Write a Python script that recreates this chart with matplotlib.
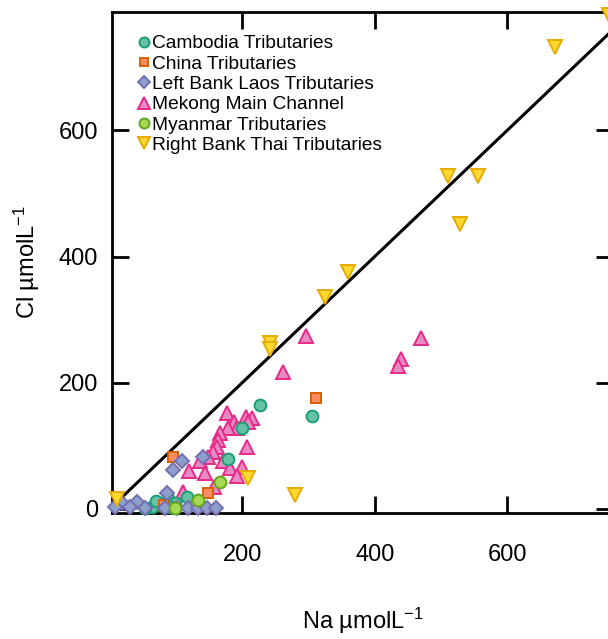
import matplotlib
matplotlib.use("Agg")
import matplotlib.pyplot as plt

plt.rcParams['font.family'] = ['Liberation Sans', 'DejaVu Sans']
plt.rcParams['mathtext.fontset'] = 'custom'
plt.rcParams['mathtext.rm'] = 'Liberation Sans'
plt.rcParams['mathtext.it'] = 'Liberation Sans'
plt.rcParams['mathtext.default'] = 'regular'

# Na vs Cl concentrations (umol/L) by sampling group
cambodia_na = [227, 200, 305, 179, 117, 87, 79, 98, 76, 64, 53, 70, 92]
cambodia_cl = [164, 128, 147, 79, 19, 17, 8, 9, 6, 3, 1, 12, 2]

china_na = [311, 95, 148, 82]
china_cl = [175, 82, 25, 6]

laos_na = [109, 95, 140, 86, 18, 41, 8, 30, 53, 83, 101, 118, 133, 147, 160]
laos_cl = [76, 61, 82, 25, 9, 11, 3, 3, 1, 1, 1, 1, 1, 1, 1]

mekong_na = [177, 205, 215, 209, 187, 192, 178, 166, 163, 162, 156, 207, 148,
             136, 171, 181, 200, 119, 144, 192, 157, 110, 296, 261, 470, 440, 435]
mekong_cl = [152, 146, 143, 138, 138, 128, 128, 120, 109, 98, 90, 97, 82,
             75, 75, 65, 66, 60, 57, 52, 34, 27, 274, 216, 271, 238, 227]

myanmar_na = [166, 133, 98]
myanmar_cl = [42, 14, 1]

thai_na = [10, 208, 280, 241, 241, 325, 359, 511, 556, 529, 672, 754]
thai_cl = [15, 48, 22, 262, 254, 335, 375, 527, 528, 452, 732, 784]

x_ticks = [200, 400, 600]
y_ticks = [0, 200, 400, 600]

W, H = 608, 639
fig = plt.figure(figsize=(W / 100, H / 100), dpi=100)
ax = fig.add_axes([112 / W, 1 - 513 / H, (613 - 112) / W, (513 - 12) / H])
ax.set_xlim(3, 760)
ax.set_ylim(-7, 788)

# 1:1 reference line
ax.plot([0, 800], [0, 800], color='black', lw=2.2, zorder=2, clip_on=True)

groups = [
    ("Mekong Main Channel", mekong_na, mekong_cl, '^', '#e78ac3', '#e7298a', 10),
    ("Cambodia Tributaries", cambodia_na, cambodia_cl, 'o', '#66c2a5', '#1b9e77', 8.5),
    ("China Tributaries", china_na, china_cl, 's', '#fc8d62', '#d95f02', 7.5),
    ("Left Bank Laos Tributaries", laos_na, laos_cl, 'D', '#8da0cb', '#7570b3', 7.5),
    ("Myanmar Tributaries", myanmar_na, myanmar_cl, 'o', '#a6d854', '#66a61e', 8.5),
    ("Right Bank Thai Tributaries", thai_na, thai_cl, 'v', '#ffd92f', '#e6ab02', 10),
]
handles = {}
for label, xs, ys, mk, fc, ec, ms in groups:
    h, = ax.plot(xs, ys, linestyle='none', marker=mk, markersize=ms,
                 markerfacecolor=fc, markeredgecolor=ec, markeredgewidth=1.4,
                 label=label, zorder=3, clip_on=False)
    handles[label] = h

order = ["Cambodia Tributaries", "China Tributaries", "Left Bank Laos Tributaries",
         "Mekong Main Channel", "Myanmar Tributaries", "Right Bank Thai Tributaries"]
leg = ax.legend([handles[k] for k in order], order, loc='upper left',
                bbox_to_anchor=(137 / W, 1 - 35 / H), bbox_transform=fig.transFigure,
                frameon=False, fontsize=13.8, handlelength=0.7, handletextpad=0.1,
                labelspacing=0.15, borderpad=0, borderaxespad=0, markerscale=0.85)

ax.set_xticks(x_ticks)
ax.set_yticks(y_ticks)
ax.tick_params(direction='in', length=12, width=2, labelsize=17,
               top=True, right=True, pad=10)
ax.tick_params(axis='x', pad=22)
for s in ax.spines.values():
    s.set_linewidth(2)

ax.set_xlabel('Na µmolL$^{−1}$', fontsize=17, labelpad=29)
ax.set_ylabel('Cl µmolL$^{−1}$', fontsize=17, labelpad=12)

fig.savefig('out.png', dpi=100)
